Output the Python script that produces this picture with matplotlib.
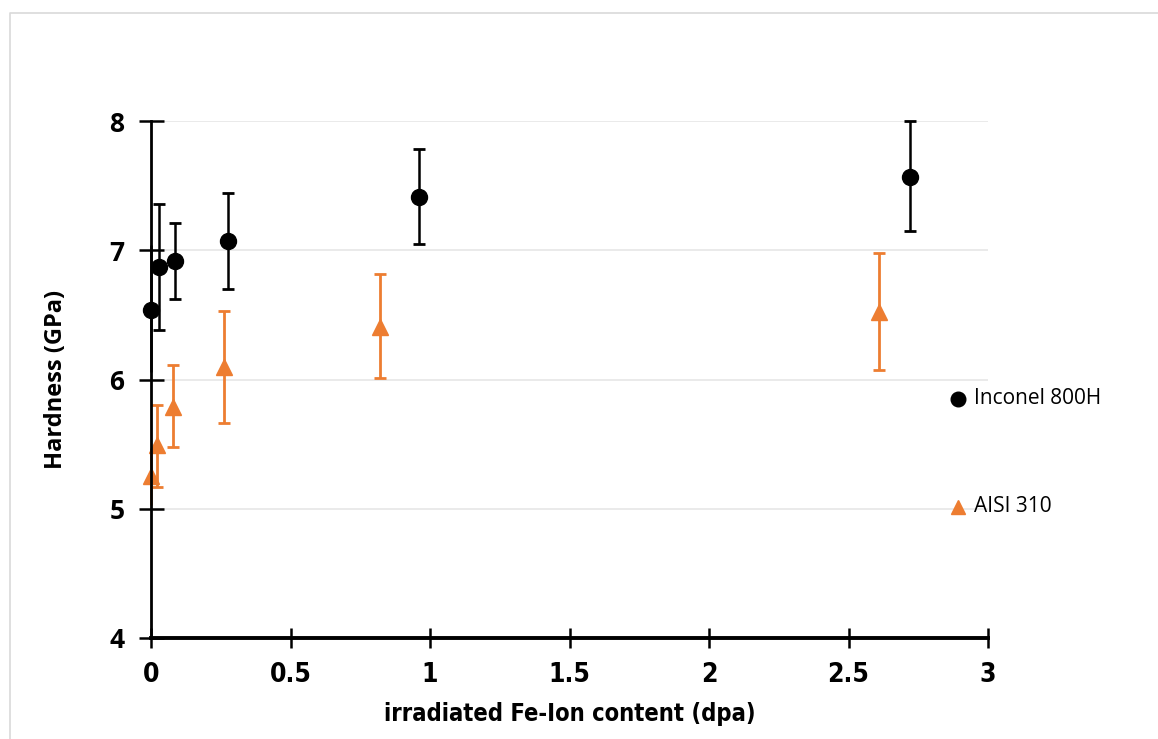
import matplotlib
matplotlib.use("Agg")
import matplotlib.pyplot as plt
from matplotlib.lines import Line2D

# Data
inconel_x = [0.0, 0.029, 0.086, 0.276, 0.96, 2.72]
inconel_y = [6.54, 6.87, 6.92, 7.07, 7.41, 7.57]
inconel_lo = [6.06, 6.38, 6.62, 6.70, 7.05, 7.15]
inconel_hi = [7.04, 7.36, 7.21, 7.44, 7.78, 8.00]

aisi_x = [0.0, 0.02, 0.08, 0.26, 0.82, 2.61]
aisi_y = [5.25, 5.49, 5.79, 6.10, 6.41, 6.52]
aisi_lo = [5.03, 5.17, 5.48, 5.66, 6.01, 6.07]
aisi_hi = [5.47, 5.80, 6.11, 6.53, 6.82, 6.98]

x_ticks = [0, 0.5, 1, 1.5, 2, 2.5, 3]
x_ticklabels = ["0", "0.5", "1", "1.5", "2", "2.5", "3"]
y_ticks = [4, 5, 6, 7, 8]

orange = "#ED7D31"

fig = plt.figure(figsize=(11.58, 7.39), dpi=100)
ax = fig.add_axes([151/1158, 1-638/739, (988-151)/1158, (638-121)/739])

for yv in y_ticks[1:]:
    ax.axhline(yv, color="#e6e6e6", lw=1.2, zorder=0)

ierr = [[y - l for y, l in zip(inconel_y, inconel_lo)], [h - y for y, h in zip(inconel_y, inconel_hi)]]
aerr = [[y - l for y, l in zip(aisi_y, aisi_lo)], [h - y for y, h in zip(aisi_y, aisi_hi)]]

# first points (at x=0) have their bars mostly hidden behind the axis: no caps
ax.errorbar(aisi_x[:1], aisi_y[:1], yerr=[aerr[0][:1], aerr[1][:1]], fmt="^", color=orange, ms=11,
            elinewidth=2, capsize=0, zorder=3, clip_on=False)
ax.errorbar(aisi_x[1:], aisi_y[1:], yerr=[aerr[0][1:], aerr[1][1:]], fmt="^", color=orange, ms=11,
            elinewidth=2, capsize=4, capthick=2, zorder=3, clip_on=False)
ax.errorbar(inconel_x[:1], inconel_y[:1], yerr=[ierr[0][:1], ierr[1][:1]], fmt="o", color="black",
            ms=11.5, elinewidth=1.8, capsize=0, zorder=4, clip_on=False)
ax.errorbar(inconel_x[1:], inconel_y[1:], yerr=[ierr[0][1:], ierr[1][1:]], fmt="o", color="black",
            ms=11.5, elinewidth=1.8, capsize=4, capthick=2, zorder=4, clip_on=False)

ax.set_xlim(0, 3)
ax.set_ylim(4, 8)
for s in ["top", "right"]:
    ax.spines[s].set_visible(False)
ax.spines["left"].set_linewidth(2)
ax.spines["bottom"].set_linewidth(2.8)
ax.spines["left"].set_zorder(5)

ax.set_xticks(x_ticks)
ax.set_xticklabels(x_ticklabels)
ax.set_yticks(y_ticks)
ax.tick_params(axis="x", direction="inout", length=14, width=1.8, pad=10)
ax.tick_params(axis="y", direction="inout", length=18, width=1.8, pad=10)
for lab in ax.get_xticklabels():
    lab.set_fontfamily("DejaVu Sans")
    lab.set_fontstretch("condensed")
    lab.set_fontweight("bold")
    lab.set_fontsize(19)
for lab in ax.get_yticklabels():
    lab.set_fontfamily("Open Sans")
    lab.set_fontweight("bold")
    lab.set_fontsize(19)

ax.set_xlabel("irradiated Fe-Ion content (dpa)", fontfamily="DejaVu Sans", fontstretch="condensed",
              fontweight="bold", fontsize=17, labelpad=10)
ax.set_ylabel("Hardness (GPa)", fontfamily="Open Sans", fontweight="bold", fontsize=17, labelpad=30)

# legend entries (placed individually)
fig.add_artist(Line2D([958/1158], [1-399/739], marker="o", color="black", ms=10.5, transform=fig.transFigure))
fig.text(974/1158, 1-399/739, "Inconel 800H", fontfamily="Open Sans", fontsize=15, va="center", ha="left")
fig.add_artist(Line2D([958/1158], [1-507/739], marker="^", color=orange, ms=10.5, transform=fig.transFigure))
fig.text(974/1158, 1-507/739, "AISI 310", fontfamily="Open Sans", fontsize=15, va="center", ha="left")

# outer chart border (top and left visible)
fig.add_artist(Line2D([10/1158, 10/1158, 1.0], [0.0, 1-13/739, 1-13/739], color="#d9d9d9", lw=1.2,
                      transform=fig.transFigure))

fig.savefig("out.png", dpi=100)
